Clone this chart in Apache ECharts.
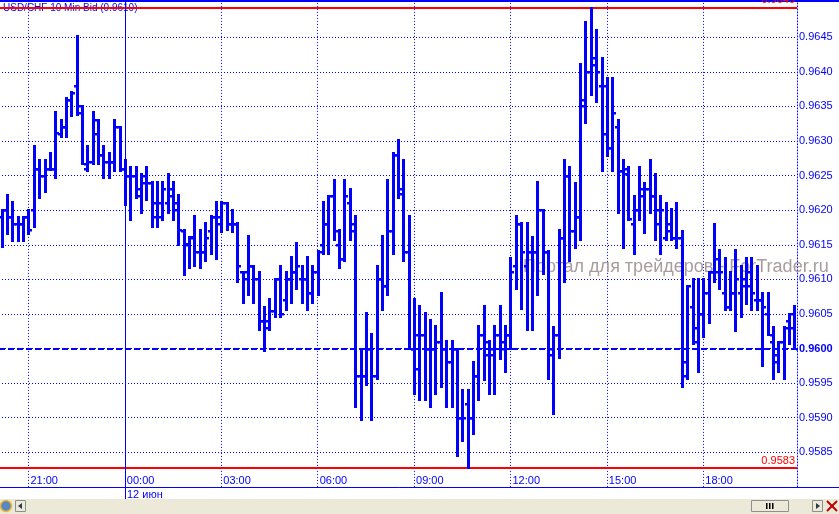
<!DOCTYPE html>
<html><head><meta charset="utf-8">
<script src="https://cdn.jsdelivr.net/npm/echarts/dist/echarts.min.js"></script>
<style>html,body{margin:0;padding:0;background:#fff;overflow:hidden}#c{width:839px;height:514px}</style>
</head><body><div id="c"></div>
<script>
// ---- data ----
const title = 'USD/CHF 10 Min Bid (0.9610)';
const watermark = 'Портал для трейдеров - ForTrader.ru';
const dateLabel = '12 июн';
const firstBarTime = [20, 10]; // 20:10, 10-minute bars
const barCount = 149;
const xTickLabels = ['21:00','00:00','03:00','06:00','09:00','12:00','15:00','18:00'];
const yMin = 0.9580, yMax = 0.9650, yStep = 0.0005;
const currentBid = 0.9600;

const opens = [0.96190,0.96200,0.96190,0.96180,0.96180,0.96190,0.96200,0.96260,0.96250,0.96260,
0.96260,0.96310,0.96320,0.96360,0.96380,0.96350,0.96260,0.96270,0.96310,0.96280,
0.96270,0.96270,0.96320,0.96260,0.96250,0.96250,0.96230,0.96240,0.96240,0.96210,
0.96190,0.96210,0.96220,0.96210,0.96170,0.96150,0.96160,0.96140,0.96140,0.96170,
0.96190,0.96180,0.96210,0.96180,0.96180,0.96110,0.96100,0.96120,0.96100,0.96040,
0.96030,0.96055,0.96100,0.96070,0.96100,0.96110,0.96100,0.96100,0.96080,0.96110,
0.96150,0.96180,0.96220,0.96150,0.96130,0.96210,0.96170,0.95960,0.95960,0.96000,
0.95960,0.96100,0.96090,0.96170,0.96280,0.96224,0.96140,0.96000,0.95970,0.96020,
0.96000,0.96000,0.96010,0.96000,0.95980,0.96000,0.95900,0.95920,0.95900,0.95960,
0.96020,0.95990,0.95990,0.96020,0.96000,0.96020,0.96120,0.96180,0.96120,0.96140,
0.96140,0.96200,0.96140,0.95990,0.96020,0.96160,0.96250,0.96170,0.96190,0.96350,
0.96400,0.96410,0.96380,0.96310,0.96290,0.96320,0.96257,0.96260,0.96180,0.96200,
0.96220,0.96230,0.96220,0.96200,0.96160,0.96180,0.96160,0.96160,0.95960,0.96060,
0.96010,0.96050,0.96080,0.96110,0.96130,0.96080,0.96060,0.96080,0.96080,0.96090,
0.96090,0.96070,0.96070,0.96050,0.96010,0.95980,0.96010,0.96040,0.96050];

const highs = [0.96200,0.96222,0.96212,0.96190,0.96190,0.96200,0.96293,0.96272,0.96272,0.96282,
0.96342,0.96331,0.96362,0.96371,0.96452,0.96351,0.96293,0.96342,0.96331,0.96293,
0.96282,0.96331,0.96321,0.96272,0.96263,0.96263,0.96252,0.96263,0.96241,0.96241,
0.96241,0.96252,0.96241,0.96222,0.96171,0.96161,0.96191,0.96172,0.96181,0.96191,
0.96212,0.96212,0.96211,0.96201,0.96181,0.96111,0.96162,0.96120,0.96111,0.96060,
0.96071,0.96101,0.96120,0.96111,0.96132,0.96152,0.96120,0.96132,0.96120,0.96141,
0.96212,0.96221,0.96243,0.96171,0.96243,0.96231,0.96191,0.96000,0.96051,0.96021,
0.96120,0.96162,0.96243,0.96282,0.96301,0.96272,0.96191,0.96071,0.96061,0.96051,
0.96042,0.96032,0.96080,0.96011,0.96011,0.96000,0.95940,0.95940,0.95980,0.96032,
0.96061,0.96011,0.96032,0.96061,0.96032,0.96131,0.96191,0.96181,0.96181,0.96161,
0.96241,0.96200,0.96141,0.96031,0.96171,0.96272,0.96262,0.96240,0.96411,0.96472,
0.96493,0.96461,0.96420,0.96391,0.96391,0.96330,0.96272,0.96262,0.96221,0.96262,
0.96240,0.96272,0.96252,0.96221,0.96211,0.96202,0.96211,0.96170,0.96091,0.96101,
0.96101,0.96101,0.96110,0.96180,0.96142,0.96131,0.96110,0.96142,0.96120,0.96131,
0.96131,0.96120,0.96080,0.96080,0.96031,0.96010,0.96031,0.96050,0.96061];

const lows = [0.96147,0.96166,0.96156,0.96156,0.96156,0.96166,0.96176,0.96217,0.96227,0.96258,
0.96247,0.96306,0.96306,0.96336,0.96337,0.96267,0.96257,0.96267,0.96267,0.96247,
0.96247,0.96257,0.96257,0.96207,0.96186,0.96217,0.96196,0.96215,0.96176,0.96176,
0.96186,0.96196,0.96186,0.96150,0.96106,0.96117,0.96120,0.96117,0.96127,0.96137,
0.96130,0.96169,0.96171,0.96169,0.96096,0.96066,0.96077,0.96066,0.96027,0.95997,
0.96027,0.96046,0.96046,0.96056,0.96066,0.96086,0.96066,0.96056,0.96066,0.96077,
0.96137,0.96137,0.96157,0.96117,0.96127,0.96157,0.95916,0.95897,0.95948,0.95897,
0.95956,0.96056,0.96077,0.96137,0.96217,0.96127,0.95999,0.95935,0.95926,0.95926,
0.95916,0.95935,0.95945,0.95916,0.95916,0.95845,0.95866,0.95827,0.95876,0.95926,
0.95955,0.95935,0.95935,0.95985,0.95966,0.96000,0.96086,0.96057,0.96027,0.96027,
0.96077,0.96108,0.95956,0.95906,0.95986,0.96096,0.96127,0.96146,0.96157,0.96326,
0.96366,0.96356,0.96256,0.96279,0.96256,0.96196,0.96146,0.96186,0.96137,0.96186,
0.96167,0.96196,0.96157,0.96137,0.96157,0.96157,0.96146,0.95945,0.95956,0.96007,
0.95966,0.96017,0.96037,0.96096,0.96086,0.96056,0.96056,0.96026,0.96046,0.96065,
0.96056,0.96056,0.95975,0.96019,0.95956,0.95966,0.95956,0.96007,0.95999];

const closes = [0.96200,0.96190,0.96180,0.96180,0.96190,0.96171,0.96260,0.96250,0.96260,0.96260,
0.96311,0.96320,0.96360,0.96370,0.96340,0.96267,0.96270,0.96330,0.96280,0.96270,
0.96270,0.96320,0.96260,0.96250,0.96250,0.96220,0.96250,0.96240,0.96190,0.96210,
0.96230,0.96230,0.96200,0.96171,0.96151,0.96161,0.96140,0.96140,0.96160,0.96190,
0.96190,0.96210,0.96180,0.96180,0.96120,0.96110,0.96120,0.96100,0.96040,0.96040,
0.96055,0.96100,0.96050,0.96100,0.96110,0.96120,0.96100,0.96080,0.96110,0.96140,
0.96180,0.96220,0.96170,0.96130,0.96220,0.96180,0.95960,0.95960,0.96000,0.95960,
0.96100,0.96090,0.96170,0.96280,0.96230,0.96140,0.96000,0.96020,0.96020,0.96000,
0.96000,0.96010,0.96000,0.95980,0.96000,0.95900,0.95900,0.95900,0.95960,0.96020,
0.96010,0.96000,0.96020,0.96010,0.96020,0.96110,0.96180,0.96140,0.96140,0.96140,
0.96200,0.96140,0.96000,0.96020,0.96160,0.96250,0.96170,0.96190,0.96360,0.96400,
0.96420,0.96400,0.96380,0.96290,0.96340,0.96257,0.96252,0.96187,0.96200,0.96230,
0.96230,0.96220,0.96180,0.96200,0.96170,0.96160,0.96160,0.95980,0.96090,0.96030,
0.96050,0.96080,0.96110,0.96110,0.96110,0.96060,0.96080,0.96100,0.96100,0.96110,
0.96080,0.96070,0.96060,0.96020,0.95990,0.96010,0.96030,0.96030,0.96000];

// time categories (10-minute bars starting 20:10)
const categories = [];
for (let i = 0; i < barCount; i++) {
  const m = (firstBarTime[0] * 60 + firstBarTime[1] + i * 10) % 1440;
  categories.push(String(Math.floor(m / 60)).padStart(2, '0') + ':' + String(m % 60).padStart(2, '0'));
}

// ---- chart ----
const BLUE = '#0000ff';
const RED = '#ff0000';
const FONT = 'Liberation Sans, Arial, sans-serif';
const ohlc = categories.map((c, i) => [i, opens[i], highs[i], lows[i], closes[i]]);
const hi = Math.max(...highs), lo = Math.min(...lows);
const isTick = (i, v) => xTickLabels.indexOf(v) >= 0 && i < 140;

function renderItem(params, api) {
  const idx = api.value(0);
  const o = api.coord([idx, api.value(1)]);
  const h = api.coord([idx, api.value(2)]);
  const l = api.coord([idx, api.value(3)]);
  const c = api.coord([idx, api.value(4)]);
  const x = Math.round(h[0]);
  const yo = Math.round(o[1]), yc = Math.round(c[1]);
  const yh = Math.round(h[1]), yl = Math.round(l[1]);
  const st = { fill: BLUE };
  return { type: 'group', children: [
    { type: 'rect', shape: { x: x - 1, y: yh - 1, width: 3, height: yl - yh + 2 }, style: st },
    { type: 'rect', shape: { x: x - 3, y: yo - 1, width: 2, height: 2.5 }, style: st },
    { type: 'rect', shape: { x: x + 2, y: yc - 1, width: 2, height: 2.5 }, style: st }
  ]};
}

const chart = echarts.init(document.getElementById('c'), null, { renderer: 'canvas' });
chart.setOption({
  animation: false,
  backgroundColor: '#ffffff',
  textStyle: { fontFamily: FONT },
  grid: { left: -1, right: 42, top: 2.7, bottom: 27.1, containLabel: false, outerBoundsMode: 'none' },
  xAxis: {
    type: 'category', data: categories, boundaryGap: true,
    axisLine: { show: true, lineStyle: { color: BLUE, width: 1 } },
    axisTick: { show: true, inside: true, alignWithLabel: true, length: 484, interval: isTick,
      lineStyle: { color: BLUE, width: 1, type: [1, 2] } },
    axisLabel: { inside: true, interval: isTick, color: BLUE, fontSize: 11, fontFamily: FONT,
      align: 'left', margin: 0, padding: [0, 0, 0, 2] },
    splitLine: { show: false }
  },
  yAxis: {
    type: 'value', position: 'right', min: yMin, max: yMax, interval: yStep,
    axisLine: { show: true, lineStyle: { color: BLUE, width: 1, type: [1, 2] } },
    axisTick: { show: false },
    axisLabel: { color: BLUE, fontSize: 11, fontFamily: FONT, margin: 2, showMinLabel: false, showMaxLabel: false,
      formatter: v => Math.abs(v - currentBid) < 1e-9 ? '{b|' + v.toFixed(4) + '}' : v.toFixed(4),
      rich: { b: { fontWeight: 'bold', color: BLUE, fontSize: 11, fontFamily: FONT } } },
    splitLine: { show: true, showMinLine: false, showMaxLine: false, lineStyle: { color: BLUE, width: 1, type: [1, 2] } }
  },
  series: [
    {
      type: 'line', data: [], z: 3, silent: true,
      markLine: {
        silent: true, symbol: 'none', animation: false, precision: 6,
        data: [
          { yAxis: currentBid, lineStyle: { color: BLUE, width: 2, type: [6, 3] }, label: { show: false } },
          { yAxis: hi, lineStyle: { color: RED, width: 2, type: 'solid' },
            label: { show: true, position: 'insideEndTop', formatter: hi.toFixed(4), color: RED, fontSize: 11, fontFamily: FONT, distance: 2 } },
          { yAxis: lo, lineStyle: { color: RED, width: 2, type: 'solid' },
            label: { show: true, position: 'insideEndTop', formatter: lo.toFixed(4), color: RED, fontSize: 11, fontFamily: FONT, distance: 2 } }
        ]
      }
    },
    {
      type: 'custom', renderItem: renderItem, data: ohlc, z: 5,
      encode: { x: 0, y: [1, 2, 3, 4] }
    }
  ]
});

// ---- frame decorations positioned from the axes ----
const xMid = chart.convertToPixel({ xAxisIndex: 0 }, categories.indexOf('00:00'));
const yBot = chart.convertToPixel({ yAxisIndex: 0 }, yMin);
const W = 839, H = 514;
const panelY = Math.round(yBot) + 12;
chart.setOption({
  graphic: [
    { type: 'rect', z: 1, shape: { x: 0, y: 0, width: W, height: 2 }, style: { fill: BLUE } },
    { type: 'text', z: 1, x: 3, y: 3, style: { text: title, fill: BLUE, font: '10px ' + FONT } },
    { type: 'text', z: 1, x: 523, y: 258, style: { text: watermark, fill: '#a89c9c', font: '18px ' + FONT } },
    { type: 'line', z: 10, shape: { x1: Math.round(xMid) + 0.5, y1: 0, x2: Math.round(xMid) + 0.5, y2: panelY }, style: { stroke: BLUE, lineWidth: 1 } },
    { type: 'line', z: 10, shape: { x1: 790, y1: Math.round(yBot) + 0.5, x2: W, y2: Math.round(yBot) + 0.5 }, style: { stroke: BLUE, lineWidth: 1 } },
    { type: 'text', z: 10, x: Math.round(xMid) + 2, y: Math.round(yBot) + 2, style: { text: dateLabel, fill: BLUE, font: '11px ' + FONT } },
    { type: 'rect', z: 10, shape: { x: 0, y: panelY, width: W, height: H - panelY }, style: { fill: '#ece9d8' } },
    { type: 'rect', z: 11, shape: { x: 751.5, y: panelY + 1.5, width: 37, height: 11 }, style: { fill: '#ece9d8', stroke: '#8e8f8f', lineWidth: 1 } },
    { type: 'rect', z: 12, shape: { x: 766, y: panelY + 4, width: 1.5, height: 6 }, style: { fill: '#000' } },
    { type: 'rect', z: 12, shape: { x: 769, y: panelY + 4, width: 1.5, height: 6 }, style: { fill: '#000' } },
    { type: 'rect', z: 12, shape: { x: 772, y: panelY + 4, width: 1.5, height: 6 }, style: { fill: '#000' } },
    { type: 'rect', z: 11, shape: { x: 812.5, y: panelY + 1.5, width: 10, height: 11 }, style: { fill: '#ece9d8', stroke: '#8e8f8f', lineWidth: 1 } },
    { type: 'polygon', z: 12, shape: { points: [[816, panelY + 4], [820, panelY + 7], [816, panelY + 10]] }, style: { fill: '#2a3a4a' } },
    { type: 'line', z: 12, shape: { x1: 827, y1: panelY + 2, x2: 837, y2: panelY + 12 }, style: { stroke: '#c00000', lineWidth: 2 } },
    { type: 'line', z: 12, shape: { x1: 837, y1: panelY + 2, x2: 827, y2: panelY + 12 }, style: { stroke: '#c00000', lineWidth: 2 } },
    { type: 'circle', z: 11, shape: { cx: 6, cy: panelY + 7, r: 5.5 }, style: { fill: '#5a86c8', stroke: '#e8b830', lineWidth: 1.5 } },
    { type: 'rect', z: 11, shape: { x: 15.5, y: panelY + 1.5, width: 10, height: 11 }, style: { fill: '#ece9d8', stroke: '#8e8f8f', lineWidth: 1 } },
    { type: 'polygon', z: 12, shape: { points: [[22, panelY + 4], [18, panelY + 7], [22, panelY + 10]] }, style: { fill: '#2a3a4a' } }
  ]
});
</script>
</body></html>
